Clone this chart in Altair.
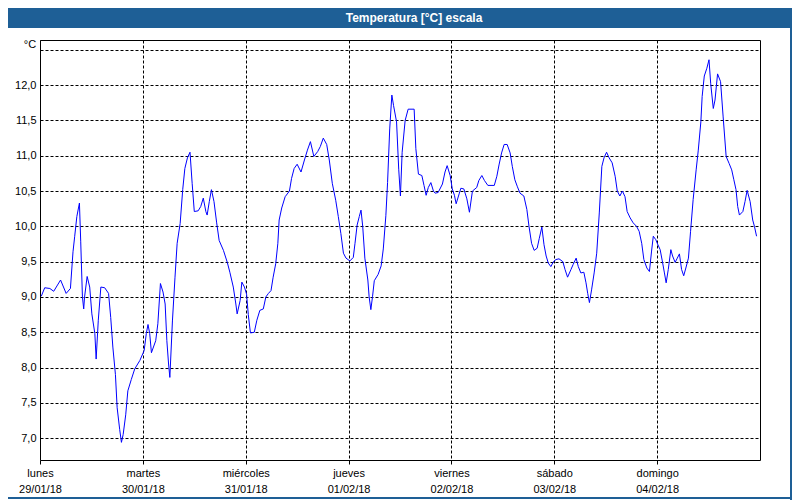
import json
import altair as alt
import pandas as pd

# hours since Monday 29/01/18 00:00
hours = [0.3,1.1,2.3,3.2,4.8,6.1,7.1,7.7,8.1,8.6,
         9.2,9.5,9.9,10.2,10.4,11.0,11.6,12.1,12.8,13.1,
         13.6,14.2,15.1,16.0,16.5,17.0,17.6,18.0,18.6,19.0,
         19.4,20.0,20.5,21.3,22.1,23.3,24.3,24.8,25.2,25.6,
         26.0,27.0,27.5,28.1,28.7,29.2,29.6,30.0,30.3,30.9,
         31.5,32.0,32.7,33.3,33.8,34.4,35.0,35.5,36.0,36.9,
         37.5,38.1,38.7,39.0,39.5,40.0,40.6,41.2,41.8,42.8,
         43.7,44.3,45.1,45.7,46.0,46.7,47.1,47.7,48.2,48.6,
         49.1,50.0,50.6,51.3,52.1,52.7,53.3,53.9,54.4,55.0,
         55.5,55.8,56.4,57.2,58.2,58.7,59.3,60.0,60.9,61.7,
         62.4,63.1,63.9,64.8,65.4,66.1,66.9,67.5,68.2,69.0,
         69.6,70.2,70.8,71.4,72.3,73.1,73.5,74.0,74.5,74.9,
         75.3,75.8,76.5,76.8,77.2,77.6,78.0,78.9,79.6,80.1,
         80.7,81.1,81.6,82.1,82.5,83.2,83.7,84.1,84.5,85.2,
         85.9,87.3,87.7,88.3,89.1,89.6,90.1,90.6,91.2,91.8,
         92.2,92.9,93.9,94.5,95.0,95.7,96.2,96.7,97.1,97.8,
         98.2,98.9,99.6,100.2,100.9,101.9,102.4,103.1,103.7,104.5,
         106.0,106.6,107.1,107.7,108.3,109.0,109.7,110.2,110.8,111.4,
         112.0,112.9,113.6,114.1,114.7,115.3,116.0,116.5,117.1,117.6,
         118.1,118.6,119.2,119.8,120.4,121.1,122.0,122.5,123.1,123.9,
         124.4,125.1,125.6,126.2,126.9,127.4,127.8,128.2,128.7,129.3,
         129.9,130.5,131.1,131.6,132.2,132.8,133.5,134.2,134.7,135.3,
         135.9,136.5,137.0,137.7,138.4,139.2,139.8,140.4,140.9,141.6,
         142.2,142.7,143.1,143.7,144.1,144.7,145.2,145.7,146.1,146.6,
         147.2,147.6,148.2,148.7,149.2,149.7,150.2,150.7,151.3,151.8,
         152.4,153.1,153.6,154.2,154.5,155.0,155.6,156.1,156.5,157.1,
         157.5,158.1,158.8,159.4,160.1,160.8,161.4,161.9,162.4,162.8,
         163.2,164.0,164.5,165.0,165.7,166.3,166.7,167.2]

temps = [9.01,9.13,9.12,9.08,9.24,9.05,9.12,9.64,9.86,10.14,
         10.33,9.79,9.00,8.83,9.00,9.29,9.14,8.76,8.48,8.12,
         8.67,9.14,9.13,9.05,8.71,8.29,7.90,7.43,7.12,6.94,
         7.05,7.33,7.67,7.83,7.98,8.10,8.24,8.48,8.61,8.48,
         8.21,8.38,8.62,9.19,9.07,8.90,8.38,8.05,7.86,8.66,
         9.28,9.76,10.04,10.52,10.82,10.97,11.05,10.61,10.21,10.22,
         10.28,10.40,10.21,10.16,10.35,10.52,10.35,10.06,9.80,9.66,
         9.49,9.35,9.14,8.90,8.76,8.95,9.21,9.14,9.04,8.75,
         8.49,8.50,8.67,8.81,8.83,9.00,9.05,9.09,9.28,9.47,
         9.76,10.09,10.26,10.42,10.50,10.68,10.82,10.88,10.77,10.94,
         11.08,11.20,10.99,11.06,11.13,11.25,11.16,10.94,10.61,10.37,
         10.14,9.90,9.62,9.55,9.51,9.56,9.76,10.02,10.14,10.23,
         10.00,9.55,9.24,9.00,8.82,9.01,9.23,9.32,9.44,9.68,
         10.15,10.62,11.38,11.86,11.71,11.48,10.81,10.43,11.05,11.50,
         11.66,11.66,11.10,10.74,10.72,10.58,10.44,10.55,10.62,10.50,
         10.47,10.48,10.60,10.77,10.86,10.72,10.53,10.44,10.32,10.46,
         10.54,10.53,10.39,10.20,10.50,10.55,10.65,10.72,10.65,10.58,
         10.58,10.71,10.87,11.04,11.16,11.16,11.04,10.85,10.66,10.56,
         10.47,10.43,10.24,10.00,9.76,9.66,9.69,9.83,9.99,9.74,
         9.58,9.48,9.43,9.50,9.53,9.54,9.50,9.39,9.28,9.39,
         9.46,9.55,9.43,9.34,9.35,9.20,9.05,8.92,9.10,9.34,
         9.62,10.19,10.85,10.97,11.05,10.97,10.90,10.71,10.50,10.43,
         10.50,10.42,10.21,10.12,10.05,10.00,9.93,9.76,9.53,9.41,
         9.36,9.65,9.86,9.81,9.75,9.67,9.51,9.34,9.20,9.39,
         9.67,9.58,9.49,9.55,9.61,9.39,9.30,9.41,9.55,9.93,
         10.38,10.80,11.08,11.48,11.84,12.13,12.24,12.36,12.02,11.67,
         11.79,12.16,12.05,11.55,10.99,10.89,10.80,10.66,10.52,10.28,
         10.16,10.21,10.35,10.51,10.35,10.09,10.00,9.86]

day_names = ["lunes", "martes", "miércoles", "jueves", "viernes", "sábado", "domingo"]
day_dates = ["29/01/18", "30/01/18", "31/01/18", "01/02/18", "02/02/18", "03/02/18", "04/02/18"]
day_ticks = [0, 24, 48, 72, 96, 120, 144]
y_ticks = [7.0, 7.5, 8.0, 8.5, 9.0, 9.5, 10.0, 10.5, 11.0, 11.5, 12.0, 12.5]

title_text = "Temperatura [°C] escala"
unit_text = "°C"

df = pd.DataFrame({"h": hours[:len(temps)], "t": temps[:len(hours)]})

FONT = "Liberation Sans"
BAR = "#1e5f96"

names_js = json.dumps(day_names, ensure_ascii=False)
dates_js = json.dumps(day_dates, ensure_ascii=False)
x_label_expr = f"[{names_js}[round(datum.value/24)], {dates_js}[round(datum.value/24)]]"

x_enc = alt.X("h:Q",
              scale=alt.Scale(domain=[0, 168], nice=False, zero=False),
              axis=alt.Axis(values=day_ticks, labelExpr=x_label_expr, title=None,
                            grid=True, gridColor="black", gridDash=[3, 2], gridOpacity=1,
                            domain=False, ticks=True, tickColor="black", tickSize=4,
                            labelPadding=3, labelFont=FONT, labelFontSize=11,
                            labelColor="black", labelLineHeight=16,
                            labelOverlap=False, labelFlush=False, labelBound=False))
y_enc = alt.Y("t:Q",
              scale=alt.Scale(domain=[6.69, 12.64], nice=False, zero=False),
              axis=alt.Axis(values=y_ticks,
                            labelExpr="datum.value > 12.4 ? '' : replace(format(datum.value, '.1f'), '.', ',')",
                            title=None, grid=True, gridColor="black", gridDash=[3, 2],
                            gridOpacity=1, domain=False, ticks=False, labelPadding=4,
                            labelFont=FONT, labelFontSize=11, labelColor="black",
                            labelOverlap=False, labelFlush=False))

line = alt.Chart(df).mark_line(color="#0000ff", strokeWidth=1).encode(x=x_enc, y=y_enc)

unit = alt.Chart(pd.DataFrame({"s": [unit_text]})).mark_text(
    font=FONT, fontSize=11, color="black", align="center", baseline="middle"
).encode(x=alt.value(-10), y=alt.value(5), text="s:N")

bar = alt.Chart(pd.DataFrame({"a": [0]})).mark_rect(color=BAR).encode(
    x=alt.value(-32), x2=alt.value(752), y=alt.value(-32), y2=alt.value(-12))

right_border = alt.Chart(pd.DataFrame({"a": [0]})).mark_rect(color=BAR).encode(
    x=alt.value(750), x2=alt.value(752), y=alt.value(-32), y2=alt.value(460))
bottom_border = alt.Chart(pd.DataFrame({"a": [0]})).mark_rect(color=BAR).encode(
    x=alt.value(-32), x2=alt.value(752), y=alt.value(457), y2=alt.value(459))

title = alt.Chart(pd.DataFrame({"s": [title_text]})).mark_text(
    font=FONT, fontSize=12, fontWeight="bold", color="white", align="center", baseline="middle"
).encode(x=alt.value(374), y=alt.value(-22), text="s:N")

chart = alt.layer(line, unit, bar, right_border, bottom_border, title).properties(
    width=720, height=420,
    autosize=alt.AutoSizeParams(type="none"),
    padding={"left": 32, "top": 32, "right": 32, "bottom": 40},
    background="white",
).configure_view(stroke="black", strokeWidth=1)

chart.save("out.html", embed_options={"renderer": "svg", "actions": False})
